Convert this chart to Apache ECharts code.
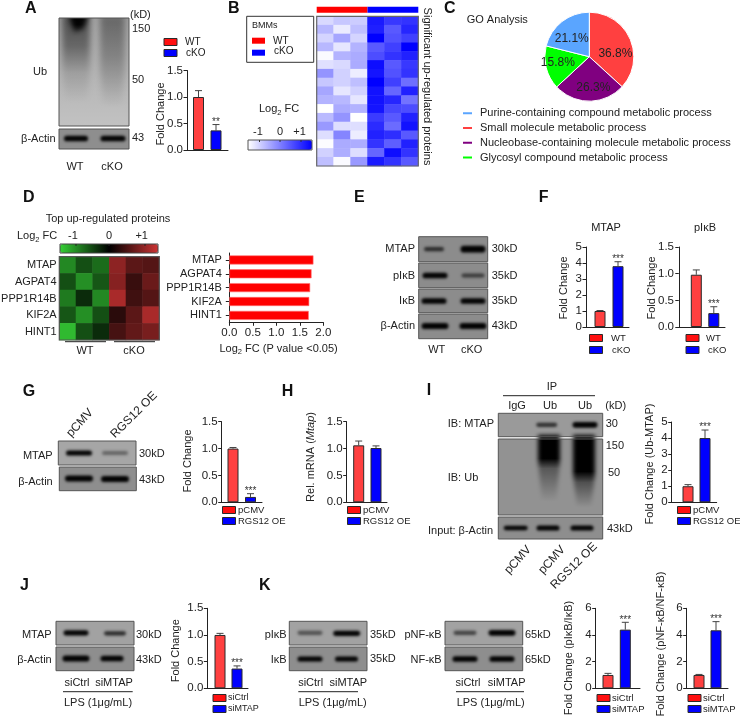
<!DOCTYPE html>
<html><head><meta charset="utf-8">
<style>html,body{margin:0;padding:0;background:#fff}#c{width:740px;height:717px;filter:blur(0.35px)}</style>
<script src="https://cdn.jsdelivr.net/npm/echarts@6/dist/echarts.min.js"></script>
</head><body><div id="c"></div>
<script>
// ---------- data ----------
const aValues=[1.0,0.37], aErrors=[1.12,0.48];
const fMtapValues=[1.0,3.8], fMtapErrors=[1.03,4.08];
const fPikbValues=[0.98,0.26], fPikbErrors=[1.07,0.38];
const gValues=[1.0,0.1], gErrors=[1.02,0.16];
const hValues=[1.06,1.01], hErrors=[1.14,1.05];
const iValues=[1.0,4.0], iErrors=[1.1,4.5];
const jValues=[1.0,0.37], jErrors=[1.03,0.42];
const k1Values=[1.0,4.4], k1Errors=[1.12,4.95];
const k2Values=[1.0,4.35], k2Errors=[1.04,5.0];
const goNames=['Purine-containing compound metabolic process','Small molecule metabolic process','Nucleobase-containing molecule metabolic process','Glycosyl compound metabolic process'];
const goValues=[21.1,36.8,26.3,15.8];
const dProteins=['MTAP','AGPAT4','PPP1R14B','KIF2A','HINT1'];
const dLogFC=[1.79,1.75,1.72,1.70,1.69];
const dHeat=[
 [-0.95,-0.55,-0.75,1.0,0.65,0.6],
 [-0.55,-1.0,-0.6,0.95,0.4,0.75],
 [-0.85,-0.3,-0.95,1.2,0.45,0.6],
 [-0.6,-1.0,-0.55,0.3,0.65,1.2],
 [-1.3,-0.55,-0.3,0.5,0.7,0.85]];
// relative blue intensity per protein (white 0 .. blue 1)
const bHeat=[
 [.15,.22,.2,.9,.78,.8],[.28,.08,.25,.88,.65,.85],[.17,.35,.17,1,.68,.75],[.28,.1,.3,.65,.75,1],
 [.02,.3,.33,.7,.8,.87],[.12,.15,.33,.95,.65,.78],[.42,.18,.07,.92,.68,.8],[.22,.18,.25,1,.75,.57],
 [.35,.1,.18,.93,.6,.87],[.3,.28,.1,.93,.85,.55],[0,.33,.3,.92,.72,.7],[.27,.42,0,.77,.65,.87],
 [.4,.13,.13,.83,.58,.93],[.13,.48,.07,.87,.82,.65],[.01,.33,.32,.8,.63,.87],[.18,.32,.13,.6,.95,.8],[.25,.02,.4,.9,.8,.65]];

// ---------- helpers ----------
const FF='"Liberation Sans",Arial,sans-serif', INK='#222';
const RED='#ff4040', BLUE='#0000ff', EDGE='#2a2a2a', OFF=2000;
const g=[];
const LG=(x0,y0,x1,y1,stops)=>new echarts.graphic.LinearGradient(x0,y0,x1,y1,stops.map(s=>({offset:s[0],color:s[1]})));
function T(text,x,y,o={}){
  const st={text,x:0,y:0,fill:o.color||INK,font:`${o.weight||'normal'} ${o.size||11}px ${FF}`,
    align:o.align||'left',textAlign:o.align||'left',verticalAlign:'middle',textVerticalAlign:'middle'};
  if(o.rich)st.rich=o.rich;
  g.push({type:'text',x,y,rotation:(o.rot||0)*Math.PI/180,silent:true,z:20,style:st});
}
function R(x,y,w,h,fill,stroke,lw,z){g.push({type:'rect',silent:true,z:z||5,shape:{x,y,width:w,height:h},style:{fill:fill||'none',stroke:stroke||'none',lineWidth:lw||1}});}
function L(x1,y1,x2,y2,c,lw,z){g.push({type:'line',silent:true,z:z||20,shape:{x1,y1,x2,y2},style:{stroke:c||INK,lineWidth:lw||1}});}
// soft band: the shape sits off-canvas, only its blurred shadow lands in the blot
function band(cx,cy,w,h,d,blur){
  g.push({type:'rect',silent:true,z:6,shape:{x:cx-w/2-OFF,y:cy-h/2,width:w,height:h,r:h/2},
   style:{fill:`rgba(0,0,0,${d})`,shadowBlur:blur||3,shadowColor:'#000',shadowOffsetX:OFF}});
}
function blot(x,y,w,h,bg,bands){
  R(x,y,w,h,bg,null,1,5);
  (bands||[]).forEach(b=>band(b[0],y+b[1],b[2],(b[3]||4.5)+1.2,b[4]===undefined?1:b[4]));
}
function frame(x,y,w,h){R(x,y,w,h,null,'#555',1,7);}
function smear(pts,stops,blur){
  g.push({type:'polygon',silent:true,z:6,shape:{points:pts.map(p=>[p[0]-OFF,p[1]])},
    style:{fill:LG(0,0,0,1,stops),shadowBlur:blur,shadowColor:'#000',shadowOffsetX:OFF}});
}
const SUB={a:{fontSize:11,fontFamily:FF,fill:INK,lineHeight:15},s:{fontSize:7.5,fontFamily:FF,fill:INK,verticalAlign:'bottom',lineHeight:15},
  i:{fontSize:11,fontFamily:FF,fill:INK,fontStyle:'italic',lineHeight:15}};

// ---------- chart assembly ----------
const grids=[],xAxes=[],yAxes=[],series=[],visualMaps=[];
const axisStyle={lineStyle:{color:INK,width:1}};
function barChart(c){
  const i=grids.length, sep=c.c[1]-c.c[0];
  grids.push({left:c.l,top:c.t,width:c.r-c.l,height:c.b-c.t,containLabel:false});
  xAxes.push({gridIndex:i,type:'value',min:1-(c.c[0]-c.l)/sep,max:2+(c.r-c.c[1])/sep,
    axisLine:{show:true,onZero:true,...axisStyle},axisTick:{show:false},axisLabel:{show:false},splitLine:{show:false}});
  yAxes.push({gridIndex:i,type:'value',min:0,max:c.max,interval:c.step,
    axisLine:{show:true,...axisStyle},axisTick:{show:true,length:3.5,...axisStyle},splitLine:{show:false},
    axisLabel:{fontSize:11.5,fontFamily:FF,color:INK,margin:4,formatter:v=>v.toFixed(c.step<1?1:0)}});
  const bw=c.bw||11;
  series.push({type:'bar',xAxisIndex:i,yAxisIndex:i,barWidth:bw,silent:true,z:3,
    data:c.v.map((v,k)=>({value:[k+1,v],itemStyle:{color:k?BLUE:RED,borderColor:EDGE,borderWidth:1}}))});
  series.push({type:'custom',xAxisIndex:i,yAxisIndex:i,silent:true,z:2,
    data:c.v.map((v,k)=>[k+1,v,c.e[k]]),
    renderItem:(p,api)=>{
      const base=api.coord([api.value(0),api.value(1)]), top=api.coord([api.value(0),api.value(2)]);
      const ch=[{type:'line',shape:{x1:base[0],y1:base[1],x2:top[0],y2:top[1]},style:{stroke:'#444',lineWidth:1}},
        {type:'line',shape:{x1:base[0]-3.5,y1:top[1],x2:base[0]+3.5,y2:top[1]},style:{stroke:'#444',lineWidth:1}}];
      const sig=p.dataIndex===1?c.sig:'';
      if(sig)ch.push({type:'text',z2:5,style:{text:sig,x:base[0],y:top[1]-2.5,align:'center',verticalAlign:'middle',fill:'#333',font:`10px ${FF}`}});
      return {type:'group',children:ch};
    },encode:{x:0,y:1}});
  if(c.ylab)T(c.ylab,c.yx,c.yc,{rot:90,align:'center',size:11,...(c.yo||{})});
  if(c.leg){const L0=c.leg;[0,1].forEach(k=>{
      R(L0.x,L0.y[k]-3.5,L0.w||13,7,k?BLUE:'#ff1010',EDGE,1,5);
      T(L0.names[k],L0.tx[k],L0.y[k],{size:L0.size||9.5});
  });}
}
const WTK=['WT','cKO'],PRG=['pCMV','RGS12 OE'],SIM=['siCtrl','siMTAP'];
barChart({l:187,r:228,t:70.5,b:150,c:[198.5,216],max:1.5,step:.5,v:aValues,e:aErrors,sig:'**',ylab:'Fold Change',yx:161,yc:114,
  leg:{x:164,y:[42,53],tx:[185,186],names:WTK,size:10}});
barChart({l:586,r:629,t:247,b:327,c:[600,618],max:5,step:1,v:fMtapValues,e:fMtapErrors,sig:'***',ylab:'Fold Change',yx:564,yc:288,
  leg:{x:589.5,y:[338,350],tx:[611,612],names:WTK}});
barChart({l:678,r:725,t:247,b:327,c:[696.3,713.8],max:1.5,step:.5,v:fPikbValues,e:fPikbErrors,sig:'***',ylab:'Fold Change',yx:652,yc:288,
  leg:{x:686,y:[338,350],tx:[706,708],names:WTK}});
barChart({l:221.7,r:262,t:421.7,b:502.3,c:[233,250.5],max:1.5,step:.5,v:gValues,e:gErrors,sig:'***',ylab:'Fold Change',yx:188,yc:461,
  leg:{x:222.5,y:[510,521],tx:[238,238],names:PRG}});
barChart({l:346.7,r:387,t:421.7,b:502.3,c:[358.7,376],max:1.5,step:.5,v:hValues,e:hErrors,ylab:'{a|Rel. mRNA (}{i|Mtap}{a|)}',yx:311,yc:457,yo:{rich:SUB},
  leg:{x:347.5,y:[510,521],tx:[363,363],names:PRG}});
barChart({l:671.7,r:716.7,t:422,b:502.3,c:[688,705],max:5,step:1,v:iValues,e:iErrors,sig:'***',ylab:'Fold Change (Ub-MTAP)',yx:650,yc:464,
  leg:{x:677.5,y:[510,521],tx:[693,693],names:PRG}});
barChart({l:207.3,r:248,t:608.3,b:688.3,c:[220,237],max:1.5,step:.5,v:jValues,e:jErrors,sig:'***',ylab:'Fold Change',yx:175.7,yc:650.7,
  leg:{x:213,y:[698,709],tx:[228,228],names:SIM,size:9}});
barChart({l:595.7,r:640,t:608.3,b:688.3,c:[608,625.3],max:6,step:2,v:k1Values,e:k1Errors,sig:'***',ylab:'Fold Change (pIκB/IκB)',yx:569,yc:658,
  leg:{x:597,y:[698,709],tx:[612,612],names:SIM,size:9.5}});
barChart({l:686.7,r:728,t:608.3,b:688.3,c:[699,716],max:6,step:2,v:k2Values,e:k2Errors,sig:'***',ylab:'Fold Change (pNF-κB/NF-κB)',yx:661,yc:644,
  leg:{x:688,y:[698,709],tx:[703,703],names:SIM,size:9.5}});

// D horizontal bars
(function(){
  const i=grids.length;
  grids.push({left:229.3,top:253,width:94,height:69.3});
  xAxes.push({gridIndex:i,type:'value',min:0,max:2,interval:.5,axisLine:{show:true,onZero:false,...axisStyle},axisTick:{show:true,length:3.5,...axisStyle},splitLine:{show:false},
    axisLabel:{fontSize:11.5,fontFamily:FF,color:INK,margin:5,formatter:v=>v.toFixed(1)}});
  yAxes.push({gridIndex:i,type:'category',inverse:true,data:dProteins,axisLine:{show:true,...axisStyle},axisTick:{show:true,length:3.5,alignWithLabel:true,...axisStyle},
    axisLabel:{fontSize:11,fontFamily:FF,color:INK,margin:7.5,interval:0}});
  series.push({type:'bar',xAxisIndex:i,yAxisIndex:i,barWidth:9,silent:true,data:dLogFC,itemStyle:{color:'#ff0000',borderColor:'#ff7070',borderWidth:.6}});
})();

function heat(l,t,w,h,rows,cols,vals,vm,barPos){
  const i=grids.length;
  grids.push({left:l,top:t,width:w,height:h});
  xAxes.push({gridIndex:i,type:'category',data:cols,show:false});
  yAxes.push({gridIndex:i,type:'category',inverse:true,data:rows,show:false});
  const data=[];vals.forEach((r,y)=>r.forEach((v,x)=>data.push([x,y,v])));
  series.push({type:'heatmap',xAxisIndex:i,yAxisIndex:i,silent:true,data,progressive:0});
  visualMaps.push({seriesIndex:series.length-1,type:'continuous',min:vm.min,max:vm.max,inRange:{color:vm.colors},
    orient:'horizontal',left:barPos[0],top:barPos[1],itemWidth:barPos[3],itemHeight:barPos[2],calculable:false,realtime:false,hoverLink:false,text:null,padding:0,showLabel:false});
}
const sampleCols=['1','2','3','4','5','6'];
heat(316.7,16.3,101.6,149.7,bHeat.map((_,k)=>'p'+k),sampleCols,bHeat,{min:0,max:1,colors:['#ffffff','#0000ff']},[248,140,64,10]);
heat(59.3,256.7,100,83.3,dProteins,sampleCols,dHeat,{min:-1.45,max:1.45,colors:['#35d035','#000000','#cc3333']},[60,244,98,9]);

// C pie
const pieOffsets=[[-2,2],[3,7],[4,6],[-7,0]], pieColors=['#5aa5ff','#ff4040','#800080','#00ff00'];
const pieOrder=[1,2,3,0];
series.push({type:'pie',center:[589.3,56.7],radius:[0,44.5],startAngle:90,clockwise:true,silent:true,
  itemStyle:{borderColor:'#fff',borderWidth:1},labelLine:{show:false},
  label:{position:'inside',fontSize:12,fontFamily:FF,color:'#222',formatter:p=>p.value.toFixed(1)+'%'},
  data:pieOrder.map(k=>({name:goNames[k],value:goValues[k],itemStyle:{color:pieColors[k]},label:{offset:pieOffsets[k]}}))});

// ---------- blots ----------
// A
R(59,18,70,108,LG(0,0,0,1,[[0,'#a4a4a4'],[.5,'#b4b4b4'],[1,'#c2c2c2']]),null,1,5);
smear([[62,15],[90,15],[90,70],[87,104],[65,104],[62,70]],[[0,'rgba(0,0,0,.55)'],[.35,'rgba(0,0,0,.4)'],[.65,'rgba(0,0,0,.12)'],[1,'rgba(0,0,0,0)']],6);
smear([[68,12],[89,12],[83,30],[74,33]],[[0,'rgba(0,0,0,1)'],[.6,'rgba(0,0,0,.95)'],[1,'rgba(0,0,0,.5)']],5);
smear([[100,15],[125,15],[125,70],[122,108],[103,108],[100,70]],[[0,'rgba(0,0,0,.38)'],[.45,'rgba(0,0,0,.25)'],[1,'rgba(0,0,0,0)']],6);
R(45,4,95,14,'#fff',null,1,6.5);R(45,18,14,110,'#fff',null,1,6.5);R(129,18,10,110,'#fff',null,1,6.5);R(45,126,95,3,'#fff',null,1,6.5);
frame(59,18,70,108);
blot(59,129,70,20,'#8e8e8e',[[76,9.5,24,4.5],[113,9.5,25,4.5]]);frame(59,129,70,20);
// E
[[236.7,25,[[434,12.5,20,3,.7],[473,12.5,25,5.5]]],[263,24.7,[[435,12.5,25,4.5],[473,12.5,23,3,.6]]],[289,23.7,[[434,12,25,4.5],[473,12,25,4.5]]],[314,24.7,[[435,12,27,5],[473,12,27,5]]]]
 .forEach(b=>{blot(418.7,b[0],69,b[1],'#8c8c8c',b[2]);frame(418.7,b[0],69,b[1]);});
// G
blot(58.3,441,77.7,24,'#a6a6a6',[[79,12,26,4],[115,12,26,3,.4]]);frame(58.3,441,77.7,24);
blot(59.3,467,77,23.7,'#8e8e8e',[[79,11.5,28,5],[115,12,28,5]]);frame(59.3,467,77,23.7);
// I: Ub first so its blur stays under the neighbouring blots
R(498.3,439,104.4,76,'#929292',null,1,5);
smear([[538,435],[560,435],[560,462],[556,502],[542,502],[538,462]],[[0,'rgba(0,0,0,1)'],[.35,'rgba(0,0,0,1)'],[.5,'rgba(0,0,0,.4)'],[1,'rgba(0,0,0,0)']],4);
smear([[573,435],[595,435],[595,475],[591,508],[577,508],[573,475]],[[0,'rgba(0,0,0,1)'],[.5,'rgba(0,0,0,1)'],[.65,'rgba(0,0,0,.45)'],[1,'rgba(0,0,0,0)']],4);
frame(498.3,439,104.4,76);
blot(498.3,413.3,104.4,23.4,'#9a9a9a',[[546.7,11.5,21,3,.7],[585,11.5,25,4.5]]);frame(498.3,413.3,104.4,23.4);
blot(498.3,517,104.4,22,'#8e8e8e',[[515.7,11,24,3.5],[548,11,23,4],[582,11,23,4]]);frame(498.3,517,104.4,22);
// J, K
function pair(x,w,top,bot){blot(x,621.3,w,23.7,'#a2a2a2',top);frame(x,621.3,w,23.7);blot(x,647,w,23.7,'#8e8e8e',bot);frame(x,647,w,23.7);}
pair(56,78,[[76,11.5,25,4],[115,12,22,3,.75]],[[76,11.5,27,5],[112,11.5,23,4.5]]);
pair(289.3,77.7,[[310,11.5,25,3,.5],[346.7,12,27,4]],[[310,12,25,4],[346.5,12,23,4]]);
pair(445,77.7,[[465,11.5,23,3,.6],[502,11.5,27,4.5]],[[465,12,25,4.5],[502,12,25,4.5]]);

// ---------- text & annotations ----------
[['A',25,9],['B',228,9],['C',444,9],['D',23,198],['E',354,198],['F',538.7,198],['G',22.7,392],['H',281.7,392],['I',426.7,391],['J',20,586],['K',259,586]]
 .forEach(p=>T(p[0],p[1],p[2],{size:16,weight:'bold',color:'#111'}));
// A
T('(kD)',130,15);T('150',132,29);T('50',132,80);T('43',132,138);T('Ub',40,72,{align:'center'});T('β-Actin',55.5,139,{align:'right'});
T('WT',75,167,{align:'center'});T('cKO',112,167,{align:'center'});
// B
R(246.7,16.3,67,46,'#fff','#333',1,5);T('BMMs',252,26,{size:9});
R(252,37.7,13,6,'#ff0000');R(252,49.7,13,6,'#0000ff');T('WT',273,41,{size:10});T('cKO',274,51,{size:10});
T('{a|Log}{s|2}{a| FC}',259,109,{rich:SUB});
T('-1',258,131.7,{align:'center'});T('0',280,131.7,{align:'center'});T('+1',299.5,131.7,{align:'center'});
R(248,140,64,10,null,'#555',1,7);[259.5,280,301].forEach(x=>L(x,140,x,142,'#333',1));
R(316.7,6.7,50.8,6,'#ff0000');R(367.5,6.7,50.8,6,'#0000ff');R(316.7,16.3,101.6,149.7,null,'#666',1.2,7);
T('Significant up-regulated proteins',427,86.5,{rot:-90,align:'center',size:11});
// C
T('GO Analysis',466.7,19.5);
// D
T('Top up-regulated proteins',108,218.5,{align:'center'});
T('{a|Log}{s|2}{a| FC}',17,236,{rich:SUB});
T('-1',73,235.5,{align:'center'});T('0',109,235.5,{align:'center'});T('+1',141.7,235.5,{align:'center'});
R(60,244,98,9,null,'#444',1,7);[76,109,145].forEach(x=>L(x,244,x,246,'#222',1));
R(59.3,256.7,100,83.3,null,'#555',1.2,7);
dProteins.forEach((n,k)=>T(n,56.7,265+k*16.75,{align:'right'}));
L(65,341.7,106,341.7,'#222',1);L(114,341.7,155,341.7,'#222',1);
T('WT',85,350.5,{align:'center'});T('cKO',134,350.5,{align:'center'});
T('{a|Log}{s|2}{a| FC (P value <0.05)}',219.5,348.5,{rich:SUB});
// E
[['MTAP',249,'30kD'],['pIκB',276,'35kD'],['IκB',301,'35kD'],['β-Actin',326,'43kD']].forEach(r=>{T(r[0],415,r[1],{align:'right'});T(r[2],491.7,r[1]);});
T('WT',436.7,350,{align:'center'});T('cKO',471.7,350,{align:'center'});
// F
T('MTAP',606,228,{align:'center'});T('pIκB',705,228,{align:'center'});
// G
T('MTAP',52.7,456,{align:'right'});T('β-Actin',52.7,481.7,{align:'right'});T('30kD',139,453.7);T('43kD',139,480);
T('pCMV',80,423,{rot:48,align:'center',size:12});T('RGS12 OE',134,415,{rot:45,align:'center',size:12});
// I
T('IP',552,386.7,{align:'center'});L(503,395.7,595,395.7,'#222',1);
T('IgG',517,405.7,{align:'center'});T('Ub',550,405.7,{align:'center'});T('Ub',585,405.7,{align:'center'});T('(kD)',615.7,405.7,{align:'center'});
T('IB: MTAP',494,424,{align:'right'});T('IB: Ub',463,477.7,{align:'center'});T('Input: β-Actin',493,530.7,{align:'right'});
T('30',605.7,424);T('150',605.7,445.7);T('50',608,473);T('43kD',607,529);
T('pCMV',518,560,{rot:48,align:'center',size:12});T('pCMV',552,560,{rot:48,align:'center',size:12});T('RGS12 OE',574,566,{rot:45,align:'center',size:12});
// J K
T('MTAP',51.7,635,{align:'right'});T('β-Actin',51.7,660,{align:'right'});T('30kD',136,635);T('43kD',136,660);
T('pIκB',286.7,635,{align:'right'});T('IκB',286.7,660,{align:'right'});T('35kD',370,635);T('35kD',370,659);
T('pNF-κB',441.7,635,{align:'right'});T('NF-κB',441.7,660,{align:'right'});T('65kD',525,635);T('65kD',525,660);
[[77,114,63,132.7,98],[310.7,348.3,298.3,358,332.7],[468,506.7,456,524,490.7]].forEach(a=>{
  T('siCtrl',a[0],682.7,{align:'center'});T('siMTAP',a[1],682.7,{align:'center'});
  L(a[2],691.7,a[3],691.7,'#222',1);T('LPS (1μg/mL)',a[4],702.7,{align:'center'});
});

const chart=echarts.init(document.getElementById('c'),null,{renderer:'canvas'});
chart.setOption({animation:false,backgroundColor:'#fff',tooltip:{show:false},
  grid:grids,xAxis:xAxes,yAxis:yAxes,series,visualMap:visualMaps,
  legend:{orient:'vertical',left:461,top:107.7,itemWidth:11,itemHeight:4,itemGap:3.8,icon:'rect',selectedMode:false,padding:0,
    data:goNames,textStyle:{fontSize:11,fontFamily:FF,color:INK,padding:[0,0,0,2]}},
  graphic:{elements:g}});
</script></body></html>
